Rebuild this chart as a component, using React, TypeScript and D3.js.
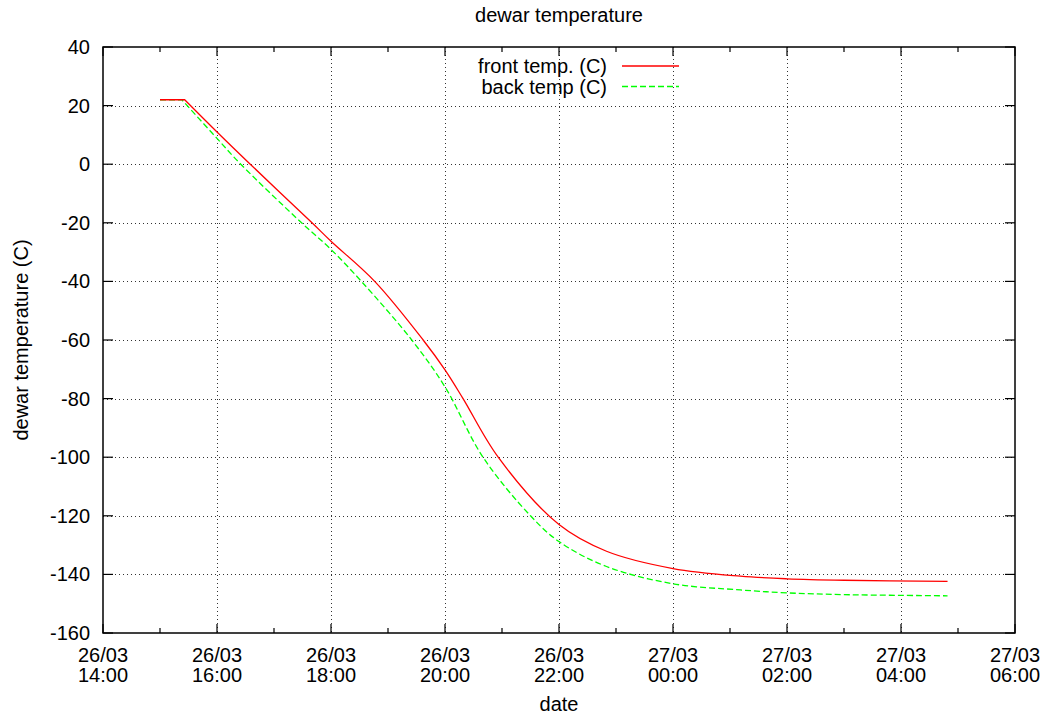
import * as d3 from 'd3';
import React, { useRef, useEffect } from 'react';

// front sensor
const frontTimes = [
  '26/03 15:00', '26/03 15:26', '26/03 16:00', '26/03 16:35', '26/03 17:40',
  '26/03 18:00', '26/03 18:46', '26/03 19:37', '26/03 20:00', '26/03 20:19',
  '26/03 20:56', '26/03 22:00', '26/03 22:50', '27/03 00:00',
  '27/03 01:11', '27/03 02:00', '27/03 03:00', '27/03 04:49',
];
const frontTemps = [
  22, 22, 11, 0, -20,
  -26.3, -40, -60, -70.2, -80,
  -100, -123, -132.1, -138,
  -140.6, -141.5, -142, -142.4,
];

// back sensor
const backTimes = [
  '26/03 15:00', '26/03 15:23', '26/03 16:00', '26/03 16:25', '26/03 17:29',
  '26/03 18:00', '26/03 18:32', '26/03 19:25', '26/03 20:00',
  '26/03 20:40', '26/03 21:30', '26/03 22:00', '26/03 22:50', '27/03 00:00',
  '27/03 01:11', '27/03 02:00', '27/03 03:00', '27/03 04:49',
];
const backTemps = [
  22, 22, 8.8, 0, -20,
  -29.1, -40, -60, -76,
  -100, -120, -128.8, -137.3, -143.2,
  -145.3, -146.3, -146.9, -147.3,
];

const xTicks = [
  '26/03 14:00', '26/03 16:00', '26/03 18:00', '26/03 20:00', '26/03 22:00',
  '27/03 00:00', '27/03 02:00', '27/03 04:00', '27/03 06:00',
];
const yTicks = [40, 20, 0, -20, -40, -60, -80, -100, -120, -140, -160];

const seriesNames = ['front temp. (C)', 'back temp (C)'];

const W = 1046;
const H = 720;
const FONT = '"Liberation Sans", Arial, Helvetica, sans-serif';

const parse = d3.utcParse('%d/%m %H:%M');

const App = () => {
  const ref = useRef<SVGSVGElement>(null);

  useEffect(() => {
    draw();
  }, []);

  const draw = () => {
    const svg = d3.select(ref.current);
    svg.selectAll('*').remove();

    const margin = { top: 47, right: 31, bottom: 87, left: 103 };
    const w = W - margin.left - margin.right;
    const h = H - margin.top - margin.bottom;

    const g = svg.append('g')
      .attr('transform', `translate(${margin.left}, ${margin.top})`)
      .style('font-family', FONT)
      .style('font-size', '20px');

    const tickDates = xTicks.map(t => parse(t) as Date);

    // scales
    const x = d3.scaleUtc()
      .domain([tickDates[0], tickDates[tickDates.length - 1]])
      .range([0, w]);
    const y = d3.scaleLinear()
      .domain([-160, 40])
      .range([h, 0]);

    // grid
    const grid = g.append('g')
      .attr('stroke', '#333')
      .attr('stroke-width', 1)
      .attr('stroke-dasharray', '1,3');
    grid.selectAll('.gx')
      .data(tickDates.slice(1, -1))
      .enter().append('line')
      .attr('x1', d => Math.round(x(d)) + 0.5)
      .attr('x2', d => Math.round(x(d)) + 0.5)
      .attr('y1', 0)
      .attr('y2', h);
    grid.selectAll('.gy')
      .data(yTicks.slice(1, -1))
      .enter().append('line')
      .attr('y1', d => Math.round(y(d)) + 0.5)
      .attr('y2', d => Math.round(y(d)) + 0.5)
      .attr('x1', 0)
      .attr('x2', w);

    // ticks (inward, mirrored)
    const ticks = g.append('g').attr('stroke', '#000').attr('stroke-width', 1.2);
    const minorDates = d3.utcHour.range(tickDates[0], tickDates[tickDates.length - 1])
      .filter(d => d.getUTCHours() % 2 === 1);
    tickDates.forEach(d => {
      ticks.append('line').attr('x1', x(d)).attr('x2', x(d)).attr('y1', h).attr('y2', h - 9);
      ticks.append('line').attr('x1', x(d)).attr('x2', x(d)).attr('y1', 0).attr('y2', 9);
    });
    minorDates.forEach(d => {
      ticks.append('line').attr('x1', x(d)).attr('x2', x(d)).attr('y1', h).attr('y2', h - 5);
      ticks.append('line').attr('x1', x(d)).attr('x2', x(d)).attr('y1', 0).attr('y2', 5);
    });
    yTicks.forEach(v => {
      ticks.append('line').attr('x1', 0).attr('x2', 10).attr('y1', y(v)).attr('y2', y(v));
      ticks.append('line').attr('x1', w).attr('x2', w - 10).attr('y1', y(v)).attr('y2', y(v));
    });

    // tick labels
    g.selectAll('.ylab')
      .data(yTicks)
      .enter().append('text')
      .attr('x', -13)
      .attr('y', d => y(d))
      .attr('dy', '0.35em')
      .attr('text-anchor', 'end')
      .attr('fill', '#000')
      .text(d => String(d));

    const fmtDay = d3.utcFormat('%d/%m');
    const fmtHour = d3.utcFormat('%H:%M');
    const xl = g.selectAll('.xlab')
      .data(tickDates)
      .enter().append('text')
      .attr('text-anchor', 'middle')
      .attr('fill', '#000');
    xl.append('tspan').attr('x', d => x(d)).attr('y', h + 29).text(d => fmtDay(d));
    xl.append('tspan').attr('x', d => x(d)).attr('y', h + 49).text(d => fmtHour(d));

    // lines: flat start is straight, the cool-down is smoothed
    const flat = d3.line<[Date, number]>()
      .x(d => x(d[0]))
      .y(d => y(d[1]));
    const smooth = d3.line<[Date, number]>()
      .x(d => x(d[0]))
      .y(d => y(d[1]))
      .curve(d3.curveCatmullRom.alpha(0.5));
    const pathOf = (pts: [Date, number][]) =>
      (flat(pts.slice(0, 2)) || '') + (smooth(pts.slice(1)) || '').replace(/^M/, 'L');

    const front: [Date, number][] = frontTimes.map((t, i) => [parse(t) as Date, frontTemps[i]]);
    const back: [Date, number][] = backTimes.map((t, i) => [parse(t) as Date, backTemps[i]]);

    g.append('path')
      .attr('d', pathOf(back))
      .attr('fill', 'none')
      .attr('stroke', '#00ff00')
      .attr('stroke-width', 1.3)
      .attr('stroke-dasharray', '6,3');
    g.append('path')
      .attr('d', pathOf(front))
      .attr('fill', 'none')
      .attr('stroke', '#ff0000')
      .attr('stroke-width', 1.3);

    // frame
    g.append('rect')
      .attr('x', 0).attr('y', 0).attr('width', w).attr('height', h)
      .attr('fill', 'none')
      .attr('stroke', '#000')
      .attr('stroke-width', 1.5);

    // legend
    const legend = [
      { name: seriesNames[0], color: '#ff0000', dash: null },
      { name: seriesNames[1], color: '#00ff00', dash: '6,3' },
    ];
    legend.forEach((l, i) => {
      const ly = 66 - margin.top + i * 20.5;
      g.append('text')
        .attr('x', 607 - margin.left)
        .attr('y', ly)
        .attr('dy', '0.35em')
        .attr('text-anchor', 'end')
        .attr('fill', '#000')
        .text(l.name);
      g.append('line')
        .attr('x1', 622 - margin.left)
        .attr('x2', 679 - margin.left)
        .attr('y1', ly)
        .attr('y2', ly)
        .attr('stroke', l.color)
        .attr('stroke-width', 1.3)
        .attr('stroke-dasharray', l.dash);
    });

    // titles
    svg.append('text')
      .attr('x', margin.left + w / 2)
      .attr('y', 22)
      .attr('text-anchor', 'middle')
      .style('font-family', FONT)
      .style('font-size', '20px')
      .text('dewar temperature');
    svg.append('text')
      .attr('x', margin.left + w / 2)
      .attr('y', 711)
      .attr('text-anchor', 'middle')
      .style('font-family', FONT)
      .style('font-size', '20px')
      .text('date');
    svg.append('text')
      .attr('transform', `translate(28, ${margin.top + h / 2}) rotate(-90)`)
      .attr('text-anchor', 'middle')
      .style('font-family', FONT)
      .style('font-size', '20px')
      .text('dewar temperature (C)');
  };

  return (
    <div className='chart'>
      <svg ref={ref} width={W} height={H}
        style={{ position: 'absolute', left: 0, top: 0, background: '#fff' }}>
      </svg>
    </div>
  );
};

export default App;
